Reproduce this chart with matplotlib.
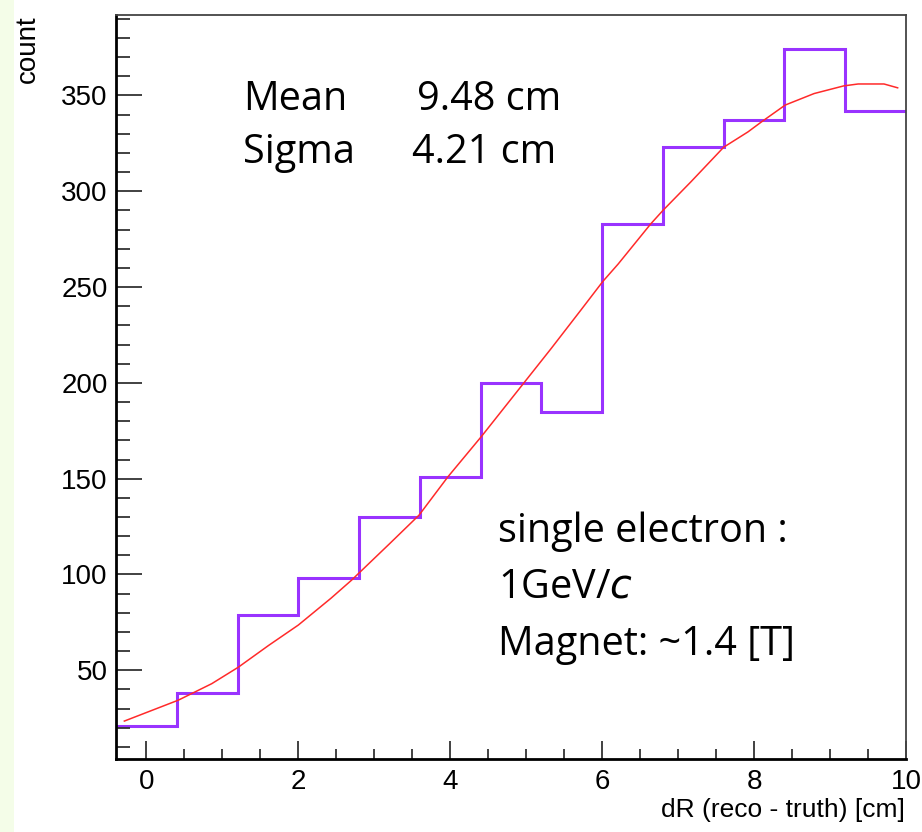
import numpy as np
import matplotlib
matplotlib.use("Agg")
import matplotlib.pyplot as plt
from matplotlib.patches import Rectangle
from matplotlib.ticker import MultipleLocator

# histogram of dR (reco - truth), bin edges in cm
bin_edges = [-0.4, 0.4, 1.2, 2.0, 2.8, 3.6, 4.4, 5.2, 6.0, 6.8, 7.6, 8.4, 9.2, 10.0]
counts = [21, 38, 79, 98, 130, 151, 200, 185, 283, 323, 337, 374, 342]

# fitted curve
fit_x = [-0.29, 0.42, 0.86, 1.21, 1.61, 2.0, 2.43, 2.7, 3.2, 3.59, 3.97, 4.41,
         4.97, 5.33, 5.72, 6.01, 6.21, 6.64, 6.8, 7.17, 7.6, 7.92, 8.09, 8.41,
         8.79, 9.18, 9.37, 9.71, 9.89]
fit_y = [23.5, 34.4, 43, 51.6, 63, 73.6, 87.6, 97, 116, 131, 151, 172,
         200, 218, 238, 253, 262, 283, 290, 305, 323, 331, 336, 345,
         351, 355, 356, 356, 354]

W, H = 922, 832
fig = plt.figure(figsize=(W / 100, H / 100), dpi=100)
fig.patches.append(Rectangle((0, 0), 14 / W, 1, transform=fig.transFigure,
                             facecolor="#f4fde8", edgecolor="none", zorder=0))

ax = fig.add_axes([116 / W, (H - 759) / H, (906 - 116) / W, (759 - 15) / H])
ax.stairs(counts, bin_edges, baseline=None, color="#9933ff", lw=2.2)
ax.plot(fit_x, fit_y, color="#ff2a2a", lw=1.1)

ax.set_xlim(-0.4, 10.0)
ax.set_ylim(3.7, 392)
ax.xaxis.set_major_locator(MultipleLocator(2))
ax.xaxis.set_minor_locator(MultipleLocator(0.5))
ax.yaxis.set_minor_locator(MultipleLocator(10))
ax.set_yticks([50, 100, 150, 200, 250, 300, 350])

ax.tick_params(axis="both", which="both", direction="in", top=False, right=False,
               color="#333333", labelfontfamily="Liberation Sans", labelsize=20)
ax.tick_params(axis="y", which="major", length=19, width=1.3, pad=6)
ax.tick_params(axis="y", which="minor", length=10, width=1.3)
ax.tick_params(axis="x", which="major", length=13, width=1.3, pad=7)
ax.tick_params(axis="x", which="minor", length=7, width=1.3)

for side in ["left", "bottom"]:
    ax.spines[side].set_linewidth(2.0)
    ax.spines[side].set_color("black")
for side in ["top", "right"]:
    ax.spines[side].set_linewidth(1.3)
    ax.spines[side].set_color("#444444")

fig.text(905 / W, 1 - 817 / H, "dR (reco - truth) [cm]", ha="right", va="baseline",
         family="Liberation Sans", size=19)
fig.text(28 / W, 1 - 15 / H, "count", rotation=90, ha="center", va="top",
         family="Liberation Sans", size=20)

note = {"family": "Open Sans", "size": 28.5, "va": "baseline"}
fig.text(243 / W, 1 - 110 / H, "Mean", **note)
fig.text(417 / W, 1 - 110 / H, "9.48 cm", **note)
fig.text(243 / W, 1 - 163 / H, "Sigma", **note)
fig.text(412 / W, 1 - 163 / H, "4.21 cm", **note)
fig.text(498 / W, 1 - 542 / H, "single electron :", **note)
fig.text(498 / W, 1 - 598 / H, "1GeV/$\\it{c}$", **note)
fig.text(498 / W, 1 - 655 / H, "Magnet: ~1.4 [T]", **note)

fig.savefig("out.png", dpi=100)
